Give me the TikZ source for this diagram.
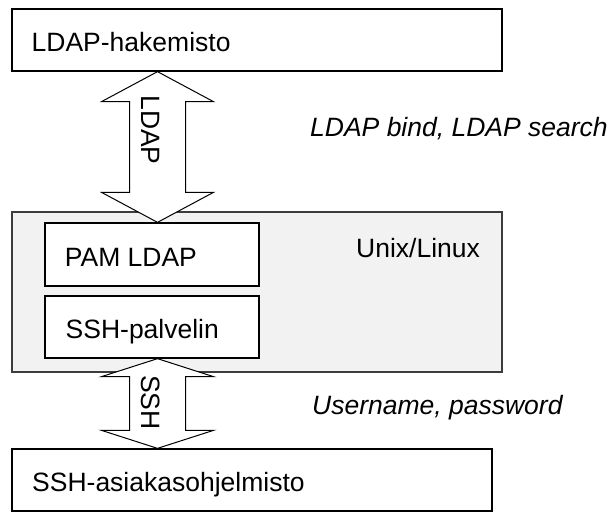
\documentclass[tikz,border=0pt]{standalone}
\usepackage{fontspec}
\setmainfont{Liberation Sans}
\usetikzlibrary{calc}
\definecolor{hostfill}{HTML}{F2F2F2}
\definecolor{hostline}{HTML}{3C3C3C}
\tikzset{
  boxnode/.style={draw=black, line width=1.3pt, fill=white, rectangle, inner sep=0pt},
  hostbox/.style={draw=hostline, line width=1.3pt, fill=hostfill, rectangle, inner sep=0pt},
  txt/.style={inner sep=0pt, anchor=base west, font=\fontsize{26.5}{30}\selectfont},
  itxt/.style={txt, font=\fontsize{26.5}{30}\selectfont\itshape},
  vtxt/.style={inner sep=0pt, rotate=-90, font=\fontsize{26.5}{30}\selectfont},
  blockarrow/.style={draw=black, line width=1pt, fill=white, line join=miter}
}
\begin{document}
\begin{tikzpicture}[x=1pt,y=-1pt]
\useasboundingbox (0,0) rectangle (612,511);
% boxes
\node[boxnode, minimum width=490pt, minimum height=62pt] (top) at (257,40) {};
\node[hostbox, minimum width=490pt, minimum height=160pt] (host) at (257,292) {};
\node[boxnode, minimum width=214pt, minimum height=63pt] (pam) at (152,254.5) {};
\node[boxnode, minimum width=214pt, minimum height=62pt] (sshd) at (152,327) {};
\node[boxnode, minimum width=480pt, minimum height=62pt] (client) at (252,480) {};
\coordinate (axis) at (157.5,0);
% LDAP double arrow
\draw[blockarrow] let \p1=(top.south -| axis), \p2=(pam.north -| axis), \n1={30pt} in
  (\p1) -- (\x1+56pt,\y1-\n1) -- (\x1+28pt,\y1-\n1) -- (\x1+28pt,\y2+\n1) -- (\x1+56pt,\y2+\n1)
  -- (\p2) -- (\x1-56pt,\y2+\n1) -- (\x1-28pt,\y2+\n1) -- (\x1-28pt,\y1-\n1) -- (\x1-56pt,\y1-\n1) -- cycle;
% SSH double arrow
\draw[blockarrow] let \p1=(sshd.south -| axis), \p2=(client.north -| axis), \n1={18pt} in
  (\p1) -- (\x1+56pt,\y1-\n1) -- (\x1+28pt,\y1-\n1) -- (\x1+28pt,\y2+\n1) -- (\x1+56pt,\y2+\n1)
  -- (\p2) -- (\x1-56pt,\y2+\n1) -- (\x1-28pt,\y2+\n1) -- (\x1-28pt,\y1-\n1) -- (\x1-56pt,\y1-\n1) -- cycle;
% texts
\node[txt] (ttop) at (31.5,51.7) {LDAP-hakemisto};
\node[txt] (tpam) at (64.7,266.7) {PAM LDAP};
\node[txt] (tsshd) at (65.5,338) {SSH-palvelin};
\node[txt] (tclient) at (32,491) {SSH-asiakasohjelmisto};
\node[txt] (thost) at (356,257) {Unix/Linux};
\node[itxt] (tbind) at (310,136.5) {LDAP bind, LDAP search};
\node[itxt] (tuser) at (312,414) {Username, password};
\node[vtxt] (lldap) at (151,130) {LDAP};
\node[vtxt] (lssh) at (151,402.5) {SSH};
\end{tikzpicture}
\end{document}
